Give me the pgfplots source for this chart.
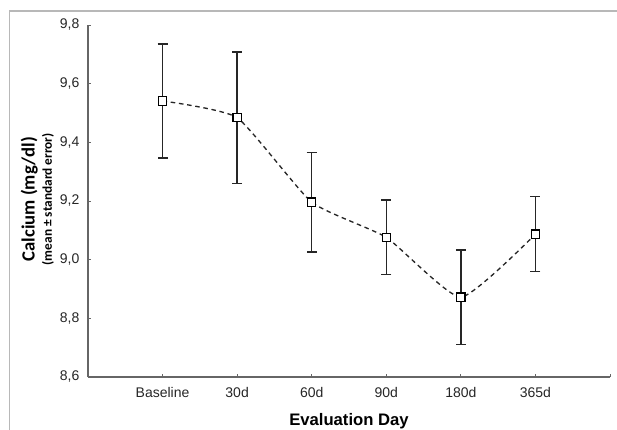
\documentclass[border=0pt]{standalone}
\usepackage{pgfplots}
\pgfplotsset{compat=1.18}
\usepackage{fontspec}
\setmainfont{Liberation Sans}
\newfontfamily\labelfont{Carlito}

\begin{document}
\begin{tikzpicture}
% page = 617x429 px at 0.75pt/px, axis SW corner at px (88,377)
\useasboundingbox (-66pt,-39pt) rectangle (396.75pt,282.75pt);
\draw[black!28, line width=1.1pt] (-58.9pt,-45pt) -- (-58.9pt,274.5pt) -- (400pt,274.5pt);
\begin{axis}[
    at={(0,0)}, anchor=south west,
    scale only axis,
    width=391.5pt, height=264pt,
    xmin=0, xmax=7,
    ymin=8.6, ymax=9.8,
    axis lines*=left,
    axis line style={draw=black!60, line width=0.8pt},
    tick style={draw=black!60, line width=0.6pt},
    major tick length=2.5pt,
    xtick={1,2,3,4,5,6},
    xticklabels={Baseline,30d,60d,90d,180d,365d},
    extra x ticks={7}, extra x tick labels={},
    ytick={8.6,8.8,9.0,9.2,9.4,9.6,9.8},
    /pgf/number format/.cd, use comma, fixed, fixed zerofill, precision=1,
    assume math mode=true,
    /pgfplots/.cd,
    ticklabel style={font=\fontsize{10.5}{12}\selectfont, text=black!85},
    yticklabel style={xshift=-3pt},
    xticklabel style={yshift=-4pt},
    xlabel={Evaluation Day},
    xlabel style={font=\fontsize{12.5}{14}\selectfont\bfseries, at={(axis description cs:0.5,-0.125)}, anchor=center},
    ylabel={\textbf{Calcium (mg/dl)}\\[-2pt]{\fontsize{10}{11}\selectfont\bfseries (mean ± standard error)}},
    ylabel style={font=\labelfont\fontsize{14}{15}\selectfont, align=center, at={(axis description cs:-0.097,0.505)}, anchor=center},
    clip=false,
]
% dashed connecting curve
\addplot[draw=black!85, line width=1pt, dash pattern=on 3.4pt off 2.8pt, smooth, tension=0.3, no marks]
  coordinates {(1,9.541) (2,9.484) (3,9.196) (4,9.076) (5,8.872) (6,9.087)};
% means with standard error
\addplot[draw=black!85, only marks, mark=square*, mark size=3.1pt,
    mark options={fill=white, draw=black, line width=0.9pt, solid},
    error bars/.cd, y dir=both, y explicit,
    error bar style={line width=1.05pt, black!85, solid},
    error mark options={rotate=90, mark size=3.75pt, line width=1.05pt, black!85}]
  coordinates {
    (1,9.541) +- (0,0.194)
    (2,9.484) +- (0,0.224)
    (3,9.196) +- (0,0.170)
    (4,9.076) +- (0,0.127)
    (5,8.872) +- (0,0.161)
    (6,9.087) +- (0,0.128)
  };
\end{axis}
\end{tikzpicture}
\end{document}
